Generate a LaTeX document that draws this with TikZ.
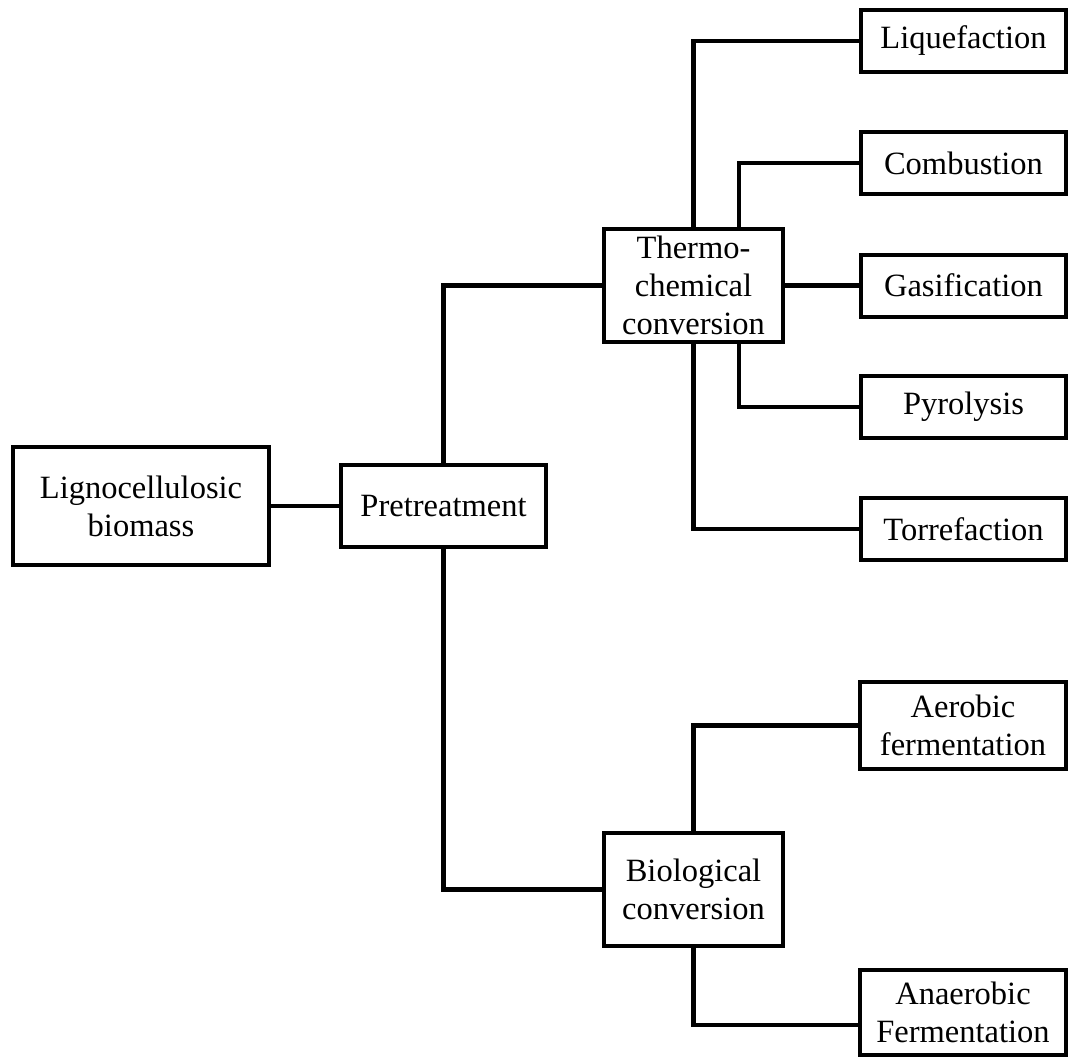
\documentclass[tikz,border=0pt]{standalone}
\usepackage{fontspec}
\setmainfont{Liberation Serif}
\begin{document}
\begin{tikzpicture}[x=1pt,y=-1pt,
  box/.style={draw=black,line width=4pt,fill=white,inner sep=0pt,align=center,
    font=\fontsize{32.5}{38}\selectfont},
  conn/.style={draw=black,line width=4.2pt,line join=miter}]
\useasboundingbox (0,0) rectangle (1073,1057);
\coordinate (xb) at (739,0);
\coordinate (yana) at (0,1025);
% nodes
\node[box,minimum width=256pt,minimum height=118pt] (lig) at (141,506) {Lignocellulosic\\biomass};
\node[box,minimum width=205pt,minimum height=82pt] (pre) at (443.5,506) {Pretreatment};
\node[box,minimum width=179pt,minimum height=113pt] (thermo) at (693.5,285.5) {Thermo-\\chemical\\conversion};
\node[box,minimum width=179pt,minimum height=113pt] (bio) at (693.5,889.5) {Biological\\conversion};
\node[box,minimum width=205pt,minimum height=62pt] (liq) at (963.5,41) {Liquefaction};
\node[box,minimum width=205pt,minimum height=62pt] (comb) at (963.5,163) {Combustion};
\node[box,minimum width=205pt,minimum height=62pt] (gas) at (963.5,285.5) {Gasification};
\node[box,minimum width=205pt,minimum height=62pt] (pyr) at (963.5,407) {Pyrolysis};
\node[box,minimum width=205pt,minimum height=62pt] (tor) at (963.5,529) {Torrefaction};
\node[box,minimum width=206pt,minimum height=87pt] (aer) at (963,725.5) {Aerobic\\fermentation};
\node[box,minimum width=206pt,minimum height=85pt] (ana) at (963,1012.5) {Anaerobic\\Fermentation};
% connectors
\draw[conn] (lig.east) -- (pre.west);
\draw[conn] (pre.north) |- (thermo.west);
\draw[conn] (pre.south) |- (bio.west);
\draw[conn] (thermo.north) |- (liq.west);
\draw[conn] (thermo.north -| xb) |- (comb.west);
\draw[conn] (thermo.east) -- (gas.west);
\draw[conn] (thermo.south -| xb) |- (pyr.west);
\draw[conn] (thermo.south) |- (tor.west);
\draw[conn] (bio.north) |- (aer.west);
\draw[conn] (bio.south) |- (ana.west |- yana);
\end{tikzpicture}
\end{document}
